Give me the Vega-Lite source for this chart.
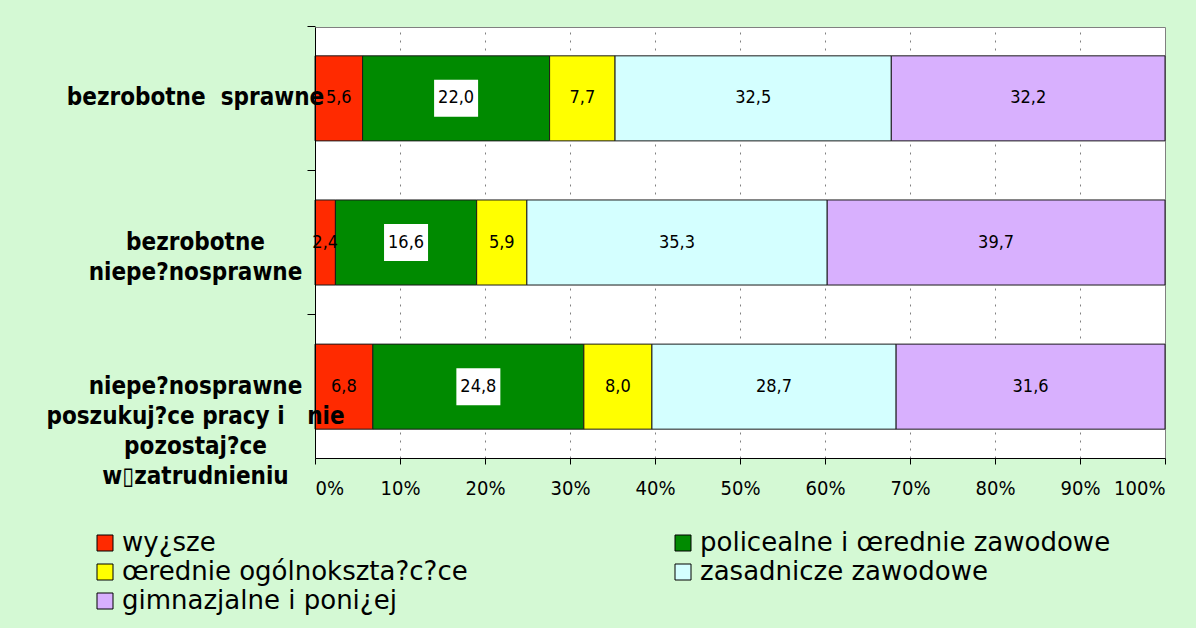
{
  "$schema": "https://vega.github.io/schema/vega-lite/v6.json",
  "width": 850,
  "height": 431,
  "autosize": {"type": "none"},
  "padding": {"left": 315, "top": 27, "right": 31, "bottom": 170},
  "background": "#D4F9D4",
  "config": {
    "view": {"stroke": "#808080", "fill": "white"},
    "font": "DejaVu Sans Condensed",
    "locale": {"number": {"decimal": ",", "thousands": ".", "grouping": [3], "currency": ["", ""]}}
  },
  "data": {
    "values": [
      {"grupa": "bezrobotne\u00a0\u00a0sprawne", "poziom": "wy¿sze", "kolejnosc": 1, "value": 5.6},
      {"grupa": "bezrobotne\u00a0\u00a0sprawne", "poziom": "policealne i œrednie zawodowe", "kolejnosc": 2, "value": 22.0},
      {"grupa": "bezrobotne\u00a0\u00a0sprawne", "poziom": "œrednie ogólnokszta?c?ce", "kolejnosc": 3, "value": 7.7},
      {"grupa": "bezrobotne\u00a0\u00a0sprawne", "poziom": "zasadnicze zawodowe", "kolejnosc": 4, "value": 32.5},
      {"grupa": "bezrobotne\u00a0\u00a0sprawne", "poziom": "gimnazjalne i poni¿ej", "kolejnosc": 5, "value": 32.2},
      {"grupa": "bezrobotne|niepe?nosprawne", "poziom": "wy¿sze", "kolejnosc": 1, "value": 2.4},
      {"grupa": "bezrobotne|niepe?nosprawne", "poziom": "policealne i œrednie zawodowe", "kolejnosc": 2, "value": 16.6},
      {"grupa": "bezrobotne|niepe?nosprawne", "poziom": "œrednie ogólnokszta?c?ce", "kolejnosc": 3, "value": 5.9},
      {"grupa": "bezrobotne|niepe?nosprawne", "poziom": "zasadnicze zawodowe", "kolejnosc": 4, "value": 35.3},
      {"grupa": "bezrobotne|niepe?nosprawne", "poziom": "gimnazjalne i poni¿ej", "kolejnosc": 5, "value": 39.7},
      {"grupa": "niepe?nosprawne|poszukuj?ce\u00a0pracy\u00a0i\u00a0\u00a0\u00a0nie|pozostaj?ce|w\u25afzatrudnieniu", "poziom": "wy¿sze", "kolejnosc": 1, "value": 6.8},
      {"grupa": "niepe?nosprawne|poszukuj?ce\u00a0pracy\u00a0i\u00a0\u00a0\u00a0nie|pozostaj?ce|w\u25afzatrudnieniu", "poziom": "policealne i œrednie zawodowe", "kolejnosc": 2, "value": 24.8},
      {"grupa": "niepe?nosprawne|poszukuj?ce\u00a0pracy\u00a0i\u00a0\u00a0\u00a0nie|pozostaj?ce|w\u25afzatrudnieniu", "poziom": "œrednie ogólnokszta?c?ce", "kolejnosc": 3, "value": 8.0},
      {"grupa": "niepe?nosprawne|poszukuj?ce\u00a0pracy\u00a0i\u00a0\u00a0\u00a0nie|pozostaj?ce|w\u25afzatrudnieniu", "poziom": "zasadnicze zawodowe", "kolejnosc": 4, "value": 28.7},
      {"grupa": "niepe?nosprawne|poszukuj?ce\u00a0pracy\u00a0i\u00a0\u00a0\u00a0nie|pozostaj?ce|w\u25afzatrudnieniu", "poziom": "gimnazjalne i poni¿ej", "kolejnosc": 5, "value": 31.6}
    ]
  },
  "transform": [
    {"stack": "value", "groupby": ["grupa"], "sort": [{"field": "kolejnosc"}], "offset": "normalize", "as": ["v0", "v1"]},
    {"calculate": "(datum.v0 + datum.v1) / 2", "as": "mid"}
  ],
  "encoding": {
    "y": {
      "field": "grupa",
      "type": "nominal",
      "sort": null,
      "scale": {"paddingInner": 0.41, "paddingOuter": 0.2},
      "axis": {
        "title": null,
        "zindex": 1,
        "labelExpr": "split(datum.label, '|')",
        "bandPosition": -0.35,
        "labelOffset": 0,
        "labelAlign": "center",
        "labelBaseline": "middle",
        "labelPadding": 112,
        "labelLimit": 0,
        "labelFontSize": 24,
        "labelFontWeight": "bold",
        "labelFont": "DejaVu Sans Condensed",
        "labelColor": "black",
        "labelLineHeight": 30,
        "tickSize": 8,
        "tickColor": "black",
        "domainColor": "black"
      }
    }
  },
  "layer": [
    {
      "mark": {"type": "bar", "stroke": "#1a1a1a", "strokeWidth": 1},
      "encoding": {
        "x": {
          "field": "v0",
          "type": "quantitative",
          "scale": {"domain": [0, 1]},
          "axis": {
            "title": null,
            "format": "%",
            "values": [0, 0.1, 0.2, 0.3, 0.4, 0.5, 0.6, 0.7, 0.8, 0.9, 1],
            "grid": true,
            "gridColor": "#808080",
            "gridDash": [2, 6],
            "tickSize": 6,
            "tickColor": "black",
            "domainColor": "black",
            "labelFontSize": 20,
            "labelFont": "DejaVu Sans Condensed",
            "labelColor": "black",
            "labelPadding": 14
          }
        },
        "x2": {"field": "v1"},
        "color": {
          "field": "poziom",
          "type": "nominal",
          "scale": {
            "domain": ["wy¿sze", "œrednie ogólnokszta?c?ce", "gimnazjalne i poni¿ej", "policealne i œrednie zawodowe", "zasadnicze zawodowe"],
            "range": ["#FF2A00", "#FFFF00", "#D8B0FE", "#008A00", "#D4FFFF"]
          },
          "legend": {
            "title": null,
            "orient": "none",
            "legendX": -223,
            "legendY": 503,
            "columns": 2,
            "columnPadding": 202,
            "rowPadding": 3,
            "padding": 0,
            "symbolType": "square",
            "symbolSize": 256,
            "symbolStrokeColor": "black",
            "symbolStrokeWidth": 1,
            "symbolOpacity": 1,
            "labelFontSize": 26,
            "labelFont": "DejaVu Sans",
            "labelColor": "black",
            "labelLimit": 600,
            "labelOffset": 4
          }
        },
        "order": {"field": "kolejnosc"}
      }
    },
    {
      "transform": [{"filter": "datum.kolejnosc == 2"}],
      "mark": {"type": "point", "shape": "M-1,-0.84L1,-0.84L1,0.84L-1,0.84Z", "filled": true, "color": "white", "opacity": 1, "size": 1936},
      "encoding": {"x": {"field": "mid", "type": "quantitative"}}
    },
    {
      "mark": {"type": "text", "fontSize": 18, "font": "DejaVu Sans Condensed", "color": "black"},
      "encoding": {
        "x": {"field": "mid", "type": "quantitative"},
        "text": {"field": "value", "type": "quantitative", "format": ".1f"}
      }
    }
  ]
}
